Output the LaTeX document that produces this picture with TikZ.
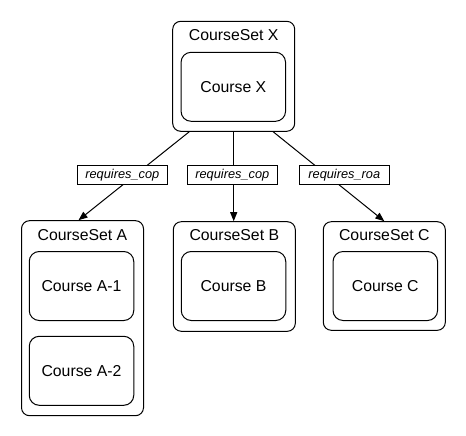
\documentclass[tikz,border=0pt]{standalone}
\usepackage{fontspec}
\setmainfont{Liberation Sans}
\usepackage{tikz}
\usetikzlibrary{arrows.meta}
\tikzstyle{courseset} = [rectangle, rounded corners=8pt, minimum width=122pt, draw=black, line width=1pt]
\tikzstyle{course} = [rectangle, rounded corners=10pt, minimum width=104.5pt, minimum height=69pt, text centered, draw=black, line width=1pt, font=\fontsize{15.8}{18}\selectfont]
\tikzstyle{title} = [inner sep=0pt, font=\fontsize{15.8}{18}\selectfont]
\tikzstyle{rel} = [rectangle, minimum width=90pt, minimum height=19.3pt, inner sep=0pt, draw=black, fill=white, line width=1pt, font=\fontsize{12.8}{15}\selectfont\itshape]
\tikzstyle{arrow} = [line width=1pt, -{Triangle[length=9pt,width=7pt]}]

\begin{document}
\begin{tikzpicture}[x=1pt, y=-1pt]
        \useasboundingbox (0,0) rectangle (466,436);
        % course sets
        \node (setX) [courseset, minimum height=110pt] at (233.7,76.3) {};
        \node (setA) [courseset, minimum height=195pt] at (82.5,318.2) {};
        \node (setB) [courseset, minimum height=109.6pt] at (234.3,276.5) {};
        \node (setC) [courseset, minimum height=108.6pt] at (384.3,276) {};
        \node (titleX) [title] at (233.7,35) {CourseSet X};
        \node (titleA) [title] at (82.5,235) {CourseSet A};
        \node (titleB) [title] at (234.3,235.5) {CourseSet B};
        \node (titleC) [title] at (384.3,235.5) {CourseSet C};
        % courses
        \node (courseX) [course] at (233.3,86.8) {Course X};
        \node (courseA1) [course] at (81.5,286) {Course A-1};
        \node (courseA2) [course] at (81.5,370.8) {Course A-2};
        \node (courseB) [course] at (233.5,286) {Course B};
        \node (courseC) [course] at (385.3,286) {Course C};
        % requirements
        \draw [arrow] ([xshift=17pt]setX.south west) -- ([xshift=-4pt]setA.north);
        \draw [arrow] (setX.south) -- (setX.south |- setB.north);
        \draw [arrow] ([xshift=-22pt]setX.south east) -- (setC.north);
        \node (relA) [rel] at (122.3,175.3) {requires\_cop};
        \node (relB) [rel] at (232.3,175.3) {requires\_cop};
        \node (relC) [rel] at (344.3,175.3) {requires\_roa};
\end{tikzpicture}
\end{document}
